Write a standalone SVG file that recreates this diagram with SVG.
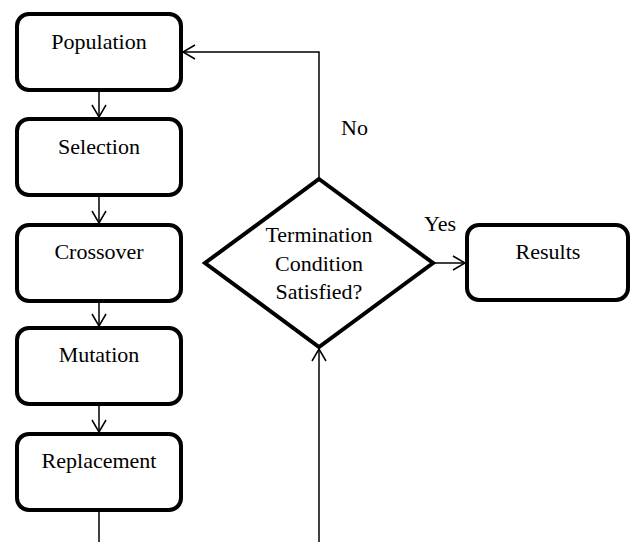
<svg xmlns="http://www.w3.org/2000/svg" width="633" height="542" viewBox="0 0 633 542">
<style>
.box{fill:#fff;stroke:#000;stroke-width:4}
.t{font-family:'Liberation Serif','Tinos','Nimbus Roman','Times New Roman','DejaVu Serif',serif;font-size:22px;fill:#000;text-anchor:middle}
.lbl{font-family:'Liberation Serif','Tinos','Nimbus Roman','Times New Roman','DejaVu Serif',serif;font-size:22px;fill:#000}
.c{fill:none;stroke:#000;stroke-width:1.5}
</style>
<defs>
<marker id="ah" markerWidth="16" markerHeight="16" refX="13" refY="8" orient="auto" markerUnits="userSpaceOnUse">
<path d="M1,1 L13,8 L1,15" fill="none" stroke="#000" stroke-width="1.5"/>
</marker>
</defs>
<rect width="633" height="542" fill="#fff"/>
<g id="connectors">
<line class="c" x1="99" y1="92" x2="99" y2="117" marker-end="url(#ah)"/>
<line class="c" x1="99" y1="197" x2="99" y2="223" marker-end="url(#ah)"/>
<line class="c" x1="99" y1="303" x2="99" y2="326" marker-end="url(#ah)"/>
<line class="c" x1="99" y1="406" x2="99" y2="432" marker-end="url(#ah)"/>
<line class="c" x1="99" y1="512" x2="99" y2="545"/>
<polyline class="c" points="319,179 319,52 183,52" marker-end="url(#ah)"/>
<line class="c" x1="319" y1="545" x2="319" y2="349" marker-end="url(#ah)"/>
<line class="c" x1="435" y1="263" x2="465" y2="263" marker-end="url(#ah)"/>
<text class="lbl" x="341" y="135">No</text>
<text class="lbl" x="424" y="231">Yes</text>
</g>
<g id="population">
<rect class="box" x="17" y="14" width="164" height="76" rx="12"/>
<text class="t" x="99" y="49">Population</text>
</g>
<g id="selection">
<rect class="box" x="17" y="119" width="164" height="76" rx="12"/>
<text class="t" x="99" y="154">Selection</text>
</g>
<g id="crossover">
<rect class="box" x="17" y="225" width="164" height="76" rx="12"/>
<text class="t" x="99" y="259">Crossover</text>
</g>
<g id="mutation">
<rect class="box" x="17" y="328" width="164" height="76" rx="12"/>
<text class="t" x="99" y="362">Mutation</text>
</g>
<g id="replacement">
<rect class="box" x="17" y="434" width="164" height="76" rx="12"/>
<text class="t" x="99" y="468">Replacement</text>
</g>
<g id="decision">
<polygon class="box" points="319,179 433,263 319,347 205,263" stroke-linejoin="miter"/>
<text class="t" x="319" y="242">Termination</text>
<text class="t" x="319" y="271">Condition</text>
<text class="t" x="319" y="299">Satisfied?</text>
</g>
<g id="results">
<rect class="box" x="467" y="225" width="161" height="75" rx="12"/>
<text class="t" x="548" y="259">Results</text>
</g>
</svg>
